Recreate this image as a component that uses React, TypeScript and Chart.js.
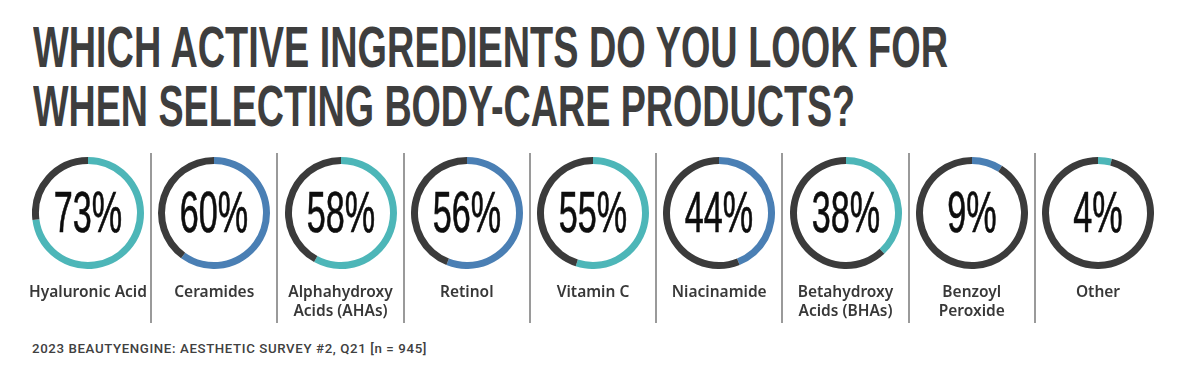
import React, { useEffect, useLayoutEffect, useRef } from "react";
import { Chart, registerables } from "chart.js";

Chart.register(...registerables);

const titleLines = ["WHICH ACTIVE INGREDIENTS DO YOU LOOK FOR", "WHEN SELECTING BODY-CARE PRODUCTS?"];
const categories = [
  "Hyaluronic Acid",
  "Ceramides",
  "Alphahydroxy\nAcids (AHAs)",
  "Retinol",
  "Vitamin C",
  "Niacinamide",
  "Betahydroxy\nAcids (BHAs)",
  "Benzoyl\nPeroxide",
  "Other",
];
const values = [73, 60, 58, 56, 55, 44, 38, 9, 4];
const seriesColors = ["#4db6b8", "#4a7fb4", "#4db6b8", "#4a7fb4", "#4db6b8", "#4a7fb4", "#4db6b8", "#4a7fb4", "#4db6b8"];
const restColor = "#3b3b3b";
const footerText = "2023 BEAUTYENGINE: AESTHETIC SURVEY #2, Q21 [n = 945]";

const PANEL_X0 = 88;
const PANEL_STEP = 126.25;
const RING_CY = 213;
const RING_R = 56;

function FitText({ text, target, style }: { text: string; target: number; style: React.CSSProperties }) {
  const ref = useRef<HTMLSpanElement>(null);
  useLayoutEffect(() => {
    const fit = () => {
      const el = ref.current;
      if (!el) return;
      el.style.transform = "none";
      const w = el.getBoundingClientRect().width;
      if (w > 0) el.style.transform = `scaleX(${target / w})`;
    };
    fit();
    if ((document as any).fonts && (document as any).fonts.ready) {
      (document as any).fonts.ready.then(fit);
    }
  }, [text, target]);
  return (
    <span
      ref={ref}
      style={{ display: "inline-block", whiteSpace: "nowrap", transformOrigin: "0 0", ...style }}
    >
      {text}
    </span>
  );
}

function Ring({ value, color, cx }: { value: number; color: string; cx: number }) {
  const ref = useRef<HTMLCanvasElement>(null);
  useEffect(() => {
    if (!ref.current) return;
    const chart = new Chart(ref.current, {
      type: "doughnut",
      data: {
        labels: ["Yes", "Rest"],
        datasets: [
          {
            data: [value, 100 - value],
            backgroundColor: [color, restColor],
            borderWidth: 0,
          },
        ],
      },
      options: {
        responsive: false,
        animation: false,
        cutout: "87.5%",
        events: [],
        plugins: { legend: { display: false }, tooltip: { enabled: false } },
        layout: { padding: 0 },
      },
    });
    return () => chart.destroy();
  }, [value, color]);
  return (
    <canvas
      ref={ref}
      width={RING_R * 2}
      height={RING_R * 2}
      style={{ position: "absolute", left: cx - RING_R, top: RING_CY - RING_R, width: RING_R * 2, height: RING_R * 2 }}
    />
  );
}

export default function App() {
  useEffect(() => {
    document.body.style.margin = "0";
  }, []);
  return (
    <div
      style={{
        position: "absolute",
        left: 0,
        top: 0,
        width: 1200,
        height: 376,
        background: "#ffffff",
        overflow: "hidden",
      }}
    >
      <div style={{ position: "absolute", left: 33, top: 17.6, lineHeight: "58px" }}>
        <FitText
          text={titleLines[0]}
          target={915}
          style={{ fontFamily: "'Liberation Sans', Arial, sans-serif", fontWeight: 700, fontSize: 58, lineHeight: "58px", color: "#3e3e3e" }}
        />
      </div>
      <div style={{ position: "absolute", left: 33, top: 77, lineHeight: "58px" }}>
        <FitText
          text={titleLines[1]}
          target={822}
          style={{ fontFamily: "'Liberation Sans', Arial, sans-serif", fontWeight: 700, fontSize: 58, lineHeight: "58px", color: "#3e3e3e" }}
        />
      </div>

      {values.map((v, i) => {
        const cx = PANEL_X0 + PANEL_STEP * i;
        return (
          <React.Fragment key={i}>
            {i > 0 && (
              <div
                style={{
                  position: "absolute",
                  left: cx - PANEL_STEP / 2 - 1,
                  top: 153,
                  width: 2,
                  height: 170,
                  background: "#9a9a9a",
                }}
              />
            )}
            <Ring value={v} color={seriesColors[i]} cx={cx} />
            <div style={{ position: "absolute", left: cx, top: 184, width: 0, height: 57 }}>
              <span
                style={{
                  position: "absolute",
                  left: 0,
                  top: 0,
                  whiteSpace: "nowrap",
                  fontFamily: "'Liberation Sans', Arial, sans-serif",
                  fontWeight: 400,
                  fontSize: 57,
                  lineHeight: "57px",
                  color: "#0d0d0d",
                  WebkitTextStroke: "0.7px #0d0d0d",
                  transform: "translateX(-50%) scaleX(0.6)",
                  transformOrigin: "50% 0",
                }}
              >
                {v}%
              </span>
            </div>
            <div
              style={{
                position: "absolute",
                left: cx - 62,
                top: 281.5,
                width: 124,
                textAlign: "center",
                fontFamily: "'Noto Sans', sans-serif",
                fontWeight: 600,
                fontSize: 15.5,
                lineHeight: "19px",
                color: "#383838",
                whiteSpace: "pre",
              }}
            >
              {categories[i]}
            </div>
          </React.Fragment>
        );
      })}

      <div style={{ position: "absolute", left: 32, top: 341, lineHeight: "13px" }}>
        <FitText
          text={footerText}
          target={395}
          style={{ fontFamily: "Roboto, 'Liberation Sans', sans-serif", fontWeight: 500, fontSize: 13, lineHeight: "13px", letterSpacing: "0.6px", color: "#404040" }}
        />
      </div>
    </div>
  );
}
